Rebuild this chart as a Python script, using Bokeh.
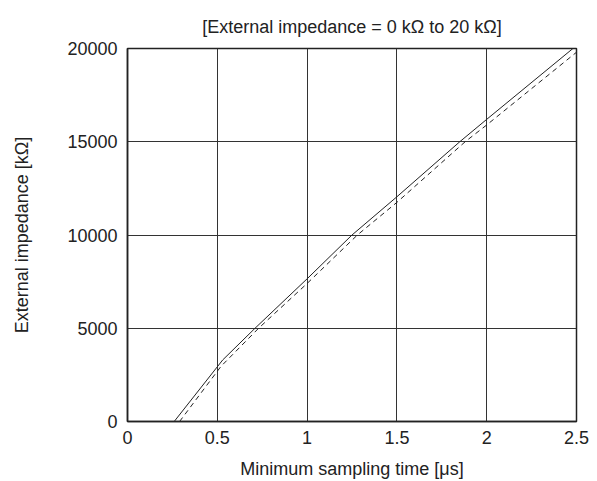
from bokeh.plotting import figure
from bokeh.embed import file_html
from bokeh.resources import INLINE
from bokeh.models import FixedTicker, Range1d

# Data
solid_x = [0.0, 0.26, 0.53, 0.71, 1.0, 1.25, 1.5, 1.85, 2.0, 2.48]
solid_y = [0, 0, 3300, 5000, 7650, 10000, 12050, 15000, 16200, 20000]
dashed_x = [0.29, 0.52, 0.73, 1.0, 1.28, 1.5, 1.88, 2.0, 2.5]
dashed_y = [0, 2950, 5000, 7400, 10000, 11750, 15000, 15900, 19800]
x_ticks = [0, 0.5, 1, 1.5, 2, 2.5]
y_ticks = [0, 5000, 10000, 15000, 20000]
title_text = "[External impedance = 0 k\u03a9 to 20 k\u03a9]"
x_label = "Minimum sampling time [\u03bcs]"
y_label = "External impedance [k\u03a9]"

FONT = "Liberation Sans"
FS = "18px"

p = figure(width=597, height=481, output_backend="svg", toolbar_location=None,
           x_range=Range1d(0, 2.5), y_range=Range1d(0, 20000),
           min_border_left=127, min_border_right=21, min_border_top=48, min_border_bottom=58)

p.title.text = title_text
p.title.align = "center"
p.title.text_font = FONT
p.title.text_font_size = FS
p.title.text_font_style = "normal"
p.title.text_color = "#222222"
p.title.offset = 0
p.title.standoff = 24

p.line(solid_x, solid_y, line_color="#222222", line_width=1.0)
p.line(dashed_x, dashed_y, line_color="#222222", line_width=1.0, line_dash="5 4")

p.xaxis.ticker = FixedTicker(ticks=x_ticks)
p.yaxis.ticker = FixedTicker(ticks=y_ticks)
p.xaxis.major_label_overrides = {0: "0", 0.5: "0.5", 1: "1", 1.5: "1.5", 2: "2", 2.5: "2.5"}

for ax in (p.xaxis, p.yaxis):
    ax.major_tick_in = 0
    ax.major_tick_out = 0
    ax.minor_tick_in = 0
    ax.minor_tick_out = 0
    ax.axis_line_color = "#222222"
    ax.axis_line_width = 1.5
    ax.major_label_text_font = FONT
    ax.major_label_text_font_size = FS
    ax.major_label_text_color = "#222222"
    ax.axis_label_text_font = FONT
    ax.axis_label_text_font_size = FS
    ax.axis_label_text_font_style = "normal"
    ax.axis_label_text_color = "#222222"

p.xaxis.axis_label = x_label
p.yaxis.axis_label = y_label
p.xaxis.major_label_standoff = 9
p.yaxis.major_label_standoff = 10
p.xaxis.axis_label_standoff = 12
p.yaxis.axis_label_standoff = 32

p.xgrid.ticker = FixedTicker(ticks=x_ticks)
p.ygrid.ticker = FixedTicker(ticks=y_ticks)
p.grid.grid_line_color = "#333333"
p.grid.grid_line_width = 1
p.grid.grid_line_alpha = 1

p.outline_line_color = "#222222"
p.outline_line_width = 1.5
p.outline_line_alpha = 1

open("out.html", "w").write(file_html(p, INLINE))
